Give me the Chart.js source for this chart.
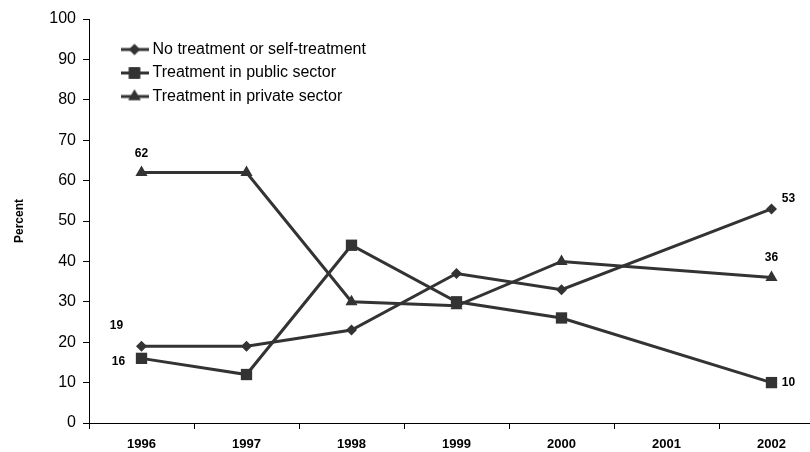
<!DOCTYPE html>
<html>
<head>
<meta charset="utf-8">
<script src="https://cdn.jsdelivr.net/npm/chart.js@4/dist/chart.umd.min.js"></script>
<style>
  html, body { margin: 0; padding: 0; background: #fff; overflow: hidden; }
  #wrap { width: 840px; height: 452px; }
</style>
</head>
<body>
<div id="wrap"><canvas id="treatmentChart"></canvas></div>
<script>
const years = ['1996', '1997', '1998', '1999', '2000', '2001', '2002'];
const noTreatment = [19, 19, 23, 37, 33, null, 53];
const publicSector = [16, 12, 44, 30, 26, null, 10];
const privateSector = [62, 62, 30, 29, 40, null, 36];
const yTicks = [0, 10, 20, 30, 40, 50, 60, 70, 80, 90, 100];

const lineColor = '#333333';
const fontFamily = '"Liberation Sans", Arial, sans-serif';

// which points get a value written next to them, and where
const labelSpots = [
    { ds: 0, i: 0, dx: -25, dy: -21 },
    { ds: 0, i: 6, dx: 17, dy: -10 },
    { ds: 1, i: 0, dx: -23, dy: 3 },
    { ds: 1, i: 6, dx: 17, dy: 0 },
    { ds: 2, i: 0, dx: 0, dy: -19 },
    { ds: 2, i: 6, dx: 0, dy: -20 }
];

const markers = [['rectRot', 5.5], ['rect', 8], ['triangle', 7]];

// legend swatch: short line with the marker in the middle
function swatch(style, r) {
    const c = document.createElement('canvas');
    c.width = 28; c.height = 16;
    const ctx = c.getContext('2d');
    ctx.strokeStyle = lineColor;
    ctx.lineWidth = 3;
    ctx.beginPath();
    ctx.moveTo(0, 8); ctx.lineTo(28, 8);
    ctx.stroke();
    ctx.fillStyle = lineColor;
    Chart.helpers.drawPoint(ctx, { pointStyle: style, radius: r, rotation: 0, borderWidth: 0 }, 14, 8);
    ctx.fill();
    return c;
}

const pointLabels = {
    id: 'pointLabels',
    afterDatasetsDraw(chart) {
        const ctx = chart.ctx;
        ctx.save();
        ctx.font = 'bold 12px ' + fontFamily;
        ctx.fillStyle = '#000';
        ctx.textAlign = 'center';
        ctx.textBaseline = 'middle';
        labelSpots.forEach(s => {
            const pt = chart.getDatasetMeta(s.ds).data[s.i];
            const v = chart.data.datasets[s.ds].data[s.i];
            ctx.fillText(String(v), pt.x + s.dx, pt.y + s.dy);
        });
        ctx.restore();
    }
};

// nudge the in-plot legend away from the axes
const legendShift = {
    id: 'legendShift',
    afterLayout(chart) {
        chart.legend.left += 28;
        chart.legend.top += 34;
    }
};

function series(label, data, style, r) {
    return {
        label: label,
        data: data,
        borderColor: lineColor,
        backgroundColor: lineColor,
        borderWidth: 3,
        pointStyle: style,
        pointRadius: r,
        pointHoverRadius: r,
        pointBorderWidth: 0,
        spanGaps: true,
        tension: 0
    };
}

const ctx = document.getElementById('treatmentChart').getContext('2d');
new Chart(ctx, {
    type: 'line',
    data: {
        labels: years,
        datasets: [
            series('No treatment or self-treatment', noTreatment, markers[0][0], markers[0][1]),
            series('Treatment in public sector', publicSector, markers[1][0], markers[1][1]),
            series('Treatment in private sector', privateSector, markers[2][0], markers[2][1])
        ]
    },
    options: {
        responsive: true,
        maintainAspectRatio: false,
        animation: false,
        layout: { padding: { left: 0, right: 16, top: 19, bottom: 0 } },
        plugins: {
            tooltip: { enabled: false },
            legend: {
                position: 'chartArea',
                align: 'start',
                labels: {
                    usePointStyle: true,
                    pointStyleWidth: 20,
                    padding: 7.5,
                    color: '#000',
                    font: { family: fontFamily, size: 16 },
                    generateLabels(chart) {
                        return chart.data.datasets.map((d, i) => ({
                            text: d.label,
                            pointStyle: swatch(markers[i][0], markers[i][1]),
                            datasetIndex: i,
                            hidden: false,
                            lineWidth: 0,
                            fontColor: '#000'
                        }));
                    }
                }
            }
        },
        scales: {
            x: {
                offset: true,
                afterFit(axis) { axis.height = 29; },
                grid: { offset: true, drawOnChartArea: false, drawTicks: true, tickLength: 6, color: '#000' },
                border: { color: '#000', width: 1 },
                ticks: { color: '#000', padding: 8, font: { family: fontFamily, size: 13, weight: 'bold' } }
            },
            y: {
                min: 0,
                max: 100,
                afterFit(axis) { axis.width = 89; },
                afterBuildTicks(axis) { axis.ticks = yTicks.map(v => ({ value: v })); },
                grid: { drawOnChartArea: false, drawTicks: true, tickLength: 6, color: '#000' },
                border: { color: '#000', width: 1 },
                ticks: { color: '#000', padding: 7, font: { family: fontFamily, size: 16 } },
                title: { display: true, text: 'Percent', color: '#000', padding: { top: 12, bottom: 0 }, font: { family: fontFamily, size: 12, weight: 'bold' } }
            }
        }
    },
    plugins: [pointLabels, legendShift]
});
</script>
</body>
</html>
